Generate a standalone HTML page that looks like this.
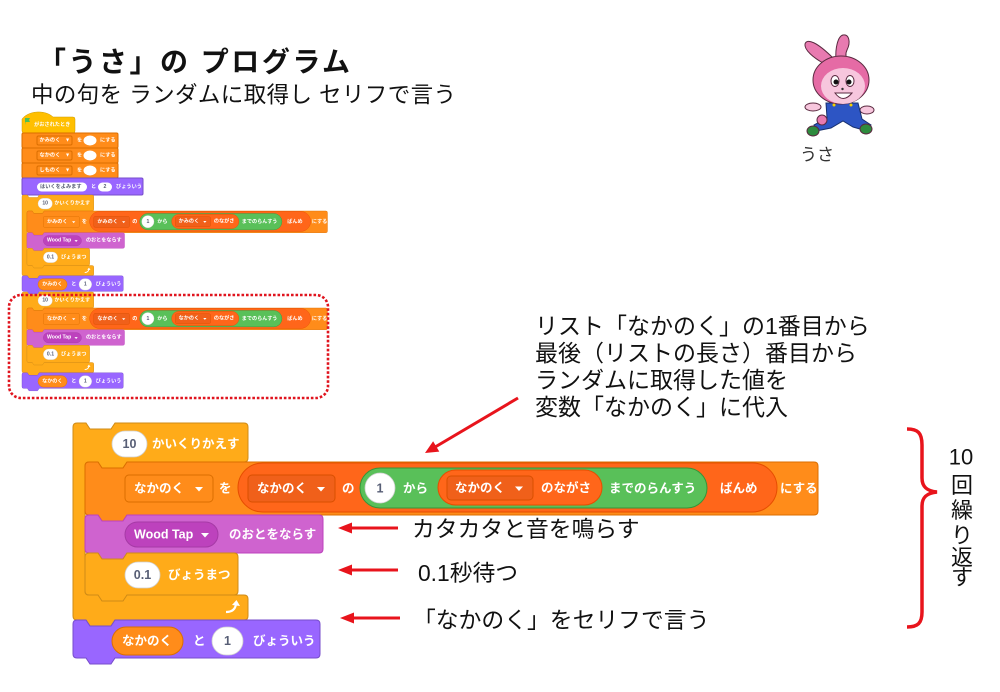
<!DOCTYPE html>
<html><head><meta charset="utf-8">
<style>
html,body{margin:0;padding:0;background:#fff;}
svg{display:block}
text{font-family:'Liberation Sans','Noto Sans CJK JP',sans-serif;}
.w{fill:#fff;font-size:12.5px;font-weight:bold;dominant-baseline:central}
.dk{fill:#575E75;font-size:12.5px;font-weight:bold;dominant-baseline:central}
.ctl{fill:#FFAB19;stroke:#CF8B17;stroke-width:1}
.var{fill:#FF8C1A;stroke:#DB6E00;stroke-width:1}
.lst{fill:#FF661A;stroke:#E64D00;stroke-width:1}
.op{fill:#59C059;stroke:#389438;stroke-width:1}
.snd{fill:#CF63CF;stroke:#BD42BD;stroke-width:1}
.lk{fill:#9966FF;stroke:#774DCB;stroke-width:1}
.wp{fill:#fff;stroke:#d0d0d0;stroke-width:.8}
.hat{fill:#FFBF00;stroke:#CC9900;stroke-width:.5}
.ann{fill:#111;font-size:23px;dominant-baseline:central}
.arr{stroke:#E8141C;stroke-width:3;fill:none}
.ah{fill:#E8141C}
.sw{fill:#fff;font-size:5.2px;font-weight:bold;dominant-baseline:central}
.sd{fill:#575E75;font-size:5.2px;font-weight:bold;dominant-baseline:central}
</style></head><body>
<svg width="1000" height="692" viewBox="0 0 1000 692" xmlns="http://www.w3.org/2000/svg">
<rect width="1000" height="692" fill="#fff"/>

<!-- Title -->
<text x="38" y="62" style="font-size:28px;font-weight:bold;fill:#111;dominant-baseline:central" textLength="312" lengthAdjust="spacing">「うさ」の プログラム</text>
<text x="31" y="95" style="font-size:22.5px;fill:#111;dominant-baseline:central" textLength="425" lengthAdjust="spacing">中の句を ランダムに取得し セリフで言う</text>

<!-- Rabbit -->
<g stroke="#5a2a40" stroke-width="1">
<path d="M823,63 C814,58 804,50 805,44 C807,38 817,42 833,58 Z" fill="#E87AB0"/>
<path d="M836,60 C835,48 838,36 843,35 C849,34 851,42 847,50 C845,54 846,58 848,60 Z" fill="#E87AB0"/>
<ellipse cx="813" cy="107" rx="8" ry="4" fill="#F7C6DD"/>
<ellipse cx="867" cy="110" rx="7" ry="4" fill="#F7C6DD"/>
<path d="M826,103 H858 L862,119 L871,125 L867,131 L853,127 L843,121 L831,128 L816,131 L814,125 L827,118 Z" fill="#2D55C4" stroke="#17306e"/>
<circle cx="822" cy="120" r="5" fill="#E87AB0"/>
<ellipse cx="813" cy="131" rx="6" ry="5" fill="#2E8B3E"/>
<ellipse cx="866" cy="129" rx="6" ry="5" fill="#2E8B3E"/>
<ellipse cx="841" cy="80" rx="28" ry="24" fill="#E56BA5"/>
<ellipse cx="843" cy="86" rx="22" ry="18" fill="#F7C6DD" stroke="none"/>
<ellipse cx="835" cy="81" rx="4" ry="5.5" fill="#fff"/>
<ellipse cx="850" cy="81" rx="4" ry="5.5" fill="#fff"/>
<circle cx="836" cy="82" r="2.5" fill="#111" stroke="none"/>
<circle cx="849" cy="82" r="2.5" fill="#111" stroke="none"/>
<circle cx="842.5" cy="89" r="1.2" fill="#333" stroke="none"/>
<path d="M835,93 Q843,104 852,93 Z" fill="#fff"/>
<circle cx="834" cy="105" r="1.5" fill="#F5D000" stroke="none"/>
<circle cx="851" cy="105" r="1.5" fill="#F5D000" stroke="none"/>
</g>
<text x="800" y="155" style="font-size:17px;fill:#333;dominant-baseline:central">うさ</text>

<!-- Small script: top part -->
<path class="hat" d="M22,119 C29,110 46,110 53,117 H73 Q75,117 75,119 V131 Q75,133 73,133 H24 Q22,133 22,131 Z"/>
<path d="M25,125 V118 H30 L29,120 L30,122 H25.5" fill="#4CBF56"/>
<text class="sw" x="34" y="125">がおされたとき</text>

<rect class="var" x="22" y="133" width="96" height="15" rx="1.5" stroke-width=".5"/>
<rect class="var" x="37" y="136" width="35" height="9" rx="1.5" stroke-width=".5"/>
<text class="sw" x="39.5" y="140.5">かみのく</text>
<text class="sw" x="65" y="140.5">▼</text>
<text class="sw" x="77" y="140.5">を</text>
<ellipse cx="90" cy="140.5" rx="6.5" ry="5" fill="#fff"/>
<text class="sw" x="100" y="140.5">にする</text>

<rect class="var" x="22" y="148" width="96" height="15" rx="1.5" stroke-width=".5"/>
<rect class="var" x="37" y="151" width="35" height="9" rx="1.5" stroke-width=".5"/>
<text class="sw" x="39.5" y="155.5">なかのく</text>
<text class="sw" x="65" y="155.5">▼</text>
<text class="sw" x="77" y="155.5">を</text>
<ellipse cx="90" cy="155.5" rx="6.5" ry="5" fill="#fff"/>
<text class="sw" x="100" y="155.5">にする</text>

<rect class="var" x="22" y="163" width="96" height="15" rx="1.5" stroke-width=".5"/>
<rect class="var" x="37" y="166" width="35" height="9" rx="1.5" stroke-width=".5"/>
<text class="sw" x="39.5" y="170.5">しものく</text>
<text class="sw" x="65" y="170.5">▼</text>
<text class="sw" x="77" y="170.5">を</text>
<ellipse cx="90" cy="170.5" rx="6.5" ry="5" fill="#fff"/>
<text class="sw" x="100" y="170.5">にする</text>

<rect class="lk" x="22" y="178" width="121" height="17" rx="1.5" stroke-width=".5"/>
<rect x="37" y="182.5" width="50" height="9" rx="4.5" fill="#fff"/>
<text class="sd" x="40" y="187">はいくをよみます</text>
<text class="sw" x="91" y="187">と</text>
<rect x="98" y="182.5" width="14" height="9" rx="4.5" fill="#fff"/>
<text class="sd" x="105" y="187" text-anchor="middle">2</text>
<text class="sw" x="116" y="187">びょういう</text>

<!-- Small script: repeat #1 -->
<g transform="translate(22,195) scale(0.41) translate(-73,-423)">
<path class="ctl" d="M73,427 Q73,423 77,423 H86 L90,429 H111 L115,423 H244 Q248,423 248,427 V458 Q248,462 244,462 H127 L123,468 H102 L98,462 H89 Q85,462 85,466 V591 Q85,595 89,595 H244 Q248,595 248,599 V616 Q248,620 244,620 H115 L111,626 H90 L86,620 H77 Q73,620 73,616 Z"/>
<path class="lk" d="M73,624 Q73,620 77,620 H86 L90,626 H111 L115,620 H316 Q320,620 320,624 V654 Q320,658 316,658 H115 L111,664 H90 L86,658 H77 Q73,658 73,654 Z"/>
<path class="var" d="M85,466 Q85,462 89,462 H98 L102,468 H123 L127,462 H814 Q818,462 818,466 V511 Q818,515 814,515 H127 L123,521 H102 L98,515 H89 Q85,515 85,511 Z"/>
<path class="snd" d="M85,519 Q85,515 89,515 H98 L102,521 H123 L127,515 H319 Q323,515 323,519 V549 Q323,553 319,553 H127 L123,559 H102 L98,553 H89 Q85,553 85,549 Z"/>
<path class="ctl" d="M85,557 Q85,553 89,553 H98 L102,559 H123 L127,553 H234 Q238,553 238,557 V591 Q238,595 234,595 H127 L123,601 H102 L98,595 H89 Q85,595 85,591 Z"/>
<rect class="wp" x="112" y="431" width="35" height="26" rx="13"/>
<text class="dk" x="129.5" y="444" text-anchor="middle">10</text>
<text class="w" x="152" y="444">かいくりかえす</text>
<rect class="var" x="125" y="475" width="88" height="27" rx="4"/>
<text class="w" x="134" y="488.5">かみのく</text>
<path d="M195,487 h8 l-4,4.5 z" fill="#fff"/>
<text class="w" x="219" y="488.5">を</text>
<rect class="lst" x="238" y="463" width="539" height="49" rx="24.5"/>
<rect x="248" y="475" width="87" height="27" rx="4" fill="#F0601A" stroke="#D94F00"/>
<text class="w" x="257" y="488.5">かみのく</text>
<path d="M317,487 h8 l-4,4.5 z" fill="#fff"/>
<text class="w" x="342" y="488.5">の</text>
<rect class="op" x="360" y="468" width="347" height="40" rx="20"/>
<rect class="wp" x="365" y="473" width="30" height="30" rx="15"/>
<text class="dk" x="380" y="488.5" text-anchor="middle">1</text>
<text class="w" x="403" y="488.5">から</text>
<rect class="lst" x="438" y="470" width="164" height="35" rx="17.5"/>
<rect x="447" y="476" width="86" height="24" rx="4" fill="#F0601A" stroke="#D94F00"/>
<text class="w" x="455" y="488">かみのく</text>
<path d="M515,486.5 h8 l-4,4.5 z" fill="#fff"/>
<text class="w" x="541" y="488">のながさ</text>
<text class="w" x="609" y="488.5">までのらんすう</text>
<text class="w" x="720" y="488.5">ばんめ</text>
<text class="w" x="780" y="488.5">にする</text>
<rect x="125" y="522" width="93" height="25" rx="12.5" fill="#BD42BD" stroke="#A63AA6"/>
<text class="w" x="134" y="534.5">Wood Tap</text>
<path d="M201,533 h8 l-4,4.5 z" fill="#fff"/>
<text class="w" x="229" y="534.5">のおとをならす</text>
<rect class="wp" x="125" y="562" width="35" height="26" rx="13"/>
<text class="dk" x="142.5" y="575" text-anchor="middle">0.1</text>
<text class="w" x="168" y="575">びょうまつ</text>
<path d="M226,612 Q235,612 236,604" stroke="#fff" stroke-width="2.2" fill="none"/>
<path d="M232,605 L236.5,600 L240,606 Z" fill="#fff"/>
<rect class="var" x="112" y="627" width="71" height="28" rx="14"/>
<text class="w" x="122" y="641">かみのく</text>
<text class="w" x="193" y="641">と</text>
<rect class="wp" x="212" y="627" width="31" height="28" rx="14"/>
<text class="dk" x="227.5" y="641" text-anchor="middle">1</text>
<text class="w" x="253" y="641">びょういう</text>
</g>

<!-- Small script: repeat #2 -->
<g transform="translate(22,292) scale(0.41) translate(-73,-423)">
<path class="ctl" d="M73,427 Q73,423 77,423 H86 L90,429 H111 L115,423 H244 Q248,423 248,427 V458 Q248,462 244,462 H127 L123,468 H102 L98,462 H89 Q85,462 85,466 V591 Q85,595 89,595 H244 Q248,595 248,599 V616 Q248,620 244,620 H115 L111,626 H90 L86,620 H77 Q73,620 73,616 Z"/>
<path class="lk" d="M73,624 Q73,620 77,620 H86 L90,626 H111 L115,620 H316 Q320,620 320,624 V654 Q320,658 316,658 H115 L111,664 H90 L86,658 H77 Q73,658 73,654 Z"/>
<path class="var" d="M85,466 Q85,462 89,462 H98 L102,468 H123 L127,462 H814 Q818,462 818,466 V511 Q818,515 814,515 H127 L123,521 H102 L98,515 H89 Q85,515 85,511 Z"/>
<path class="snd" d="M85,519 Q85,515 89,515 H98 L102,521 H123 L127,515 H319 Q323,515 323,519 V549 Q323,553 319,553 H127 L123,559 H102 L98,553 H89 Q85,553 85,549 Z"/>
<path class="ctl" d="M85,557 Q85,553 89,553 H98 L102,559 H123 L127,553 H234 Q238,553 238,557 V591 Q238,595 234,595 H127 L123,601 H102 L98,595 H89 Q85,595 85,591 Z"/>
<rect class="wp" x="112" y="431" width="35" height="26" rx="13"/>
<text class="dk" x="129.5" y="444" text-anchor="middle">10</text>
<text class="w" x="152" y="444">かいくりかえす</text>
<rect class="var" x="125" y="475" width="88" height="27" rx="4"/>
<text class="w" x="134" y="488.5">なかのく</text>
<path d="M195,487 h8 l-4,4.5 z" fill="#fff"/>
<text class="w" x="219" y="488.5">を</text>
<rect class="lst" x="238" y="463" width="539" height="49" rx="24.5"/>
<rect x="248" y="475" width="87" height="27" rx="4" fill="#F0601A" stroke="#D94F00"/>
<text class="w" x="257" y="488.5">なかのく</text>
<path d="M317,487 h8 l-4,4.5 z" fill="#fff"/>
<text class="w" x="342" y="488.5">の</text>
<rect class="op" x="360" y="468" width="347" height="40" rx="20"/>
<rect class="wp" x="365" y="473" width="30" height="30" rx="15"/>
<text class="dk" x="380" y="488.5" text-anchor="middle">1</text>
<text class="w" x="403" y="488.5">から</text>
<rect class="lst" x="438" y="470" width="164" height="35" rx="17.5"/>
<rect x="447" y="476" width="86" height="24" rx="4" fill="#F0601A" stroke="#D94F00"/>
<text class="w" x="455" y="488">なかのく</text>
<path d="M515,486.5 h8 l-4,4.5 z" fill="#fff"/>
<text class="w" x="541" y="488">のながさ</text>
<text class="w" x="609" y="488.5">までのらんすう</text>
<text class="w" x="720" y="488.5">ばんめ</text>
<text class="w" x="780" y="488.5">にする</text>
<rect x="125" y="522" width="93" height="25" rx="12.5" fill="#BD42BD" stroke="#A63AA6"/>
<text class="w" x="134" y="534.5">Wood Tap</text>
<path d="M201,533 h8 l-4,4.5 z" fill="#fff"/>
<text class="w" x="229" y="534.5">のおとをならす</text>
<rect class="wp" x="125" y="562" width="35" height="26" rx="13"/>
<text class="dk" x="142.5" y="575" text-anchor="middle">0.1</text>
<text class="w" x="168" y="575">びょうまつ</text>
<path d="M226,612 Q235,612 236,604" stroke="#fff" stroke-width="2.2" fill="none"/>
<path d="M232,605 L236.5,600 L240,606 Z" fill="#fff"/>
<rect class="var" x="112" y="627" width="71" height="28" rx="14"/>
<text class="w" x="122" y="641">なかのく</text>
<text class="w" x="193" y="641">と</text>
<rect class="wp" x="212" y="627" width="31" height="28" rx="14"/>
<text class="dk" x="227.5" y="641" text-anchor="middle">1</text>
<text class="w" x="253" y="641">びょういう</text>
</g>

<!-- Dotted highlight -->
<rect x="9" y="295" width="319" height="103" rx="12" fill="none" stroke="#E0141E" stroke-width="2.6" stroke-dasharray="2.6 1.9"/>

<!-- Big script -->
<g>
<path class="ctl" d="M73,427 Q73,423 77,423 H86 L90,429 H111 L115,423 H244 Q248,423 248,427 V458 Q248,462 244,462 H127 L123,468 H102 L98,462 H89 Q85,462 85,466 V591 Q85,595 89,595 H244 Q248,595 248,599 V616 Q248,620 244,620 H115 L111,626 H90 L86,620 H77 Q73,620 73,616 Z"/>
<path class="lk" d="M73,624 Q73,620 77,620 H86 L90,626 H111 L115,620 H316 Q320,620 320,624 V654 Q320,658 316,658 H115 L111,664 H90 L86,658 H77 Q73,658 73,654 Z"/>
<path class="var" d="M85,466 Q85,462 89,462 H98 L102,468 H123 L127,462 H814 Q818,462 818,466 V511 Q818,515 814,515 H127 L123,521 H102 L98,515 H89 Q85,515 85,511 Z"/>
<path class="snd" d="M85,519 Q85,515 89,515 H98 L102,521 H123 L127,515 H319 Q323,515 323,519 V549 Q323,553 319,553 H127 L123,559 H102 L98,553 H89 Q85,553 85,549 Z"/>
<path class="ctl" d="M85,557 Q85,553 89,553 H98 L102,559 H123 L127,553 H234 Q238,553 238,557 V591 Q238,595 234,595 H127 L123,601 H102 L98,595 H89 Q85,595 85,591 Z"/>
<rect class="wp" x="112" y="431" width="35" height="26" rx="13"/>
<text class="dk" x="129.5" y="444" text-anchor="middle">10</text>
<text class="w" x="152" y="444">かいくりかえす</text>
<rect class="var" x="125" y="475" width="88" height="27" rx="4"/>
<text class="w" x="134" y="488.5">なかのく</text>
<path d="M195,487 h8 l-4,4.5 z" fill="#fff"/>
<text class="w" x="219" y="488.5">を</text>
<rect class="lst" x="238" y="463" width="539" height="49" rx="24.5"/>
<rect x="248" y="475" width="87" height="27" rx="4" fill="#F0601A" stroke="#D94F00"/>
<text class="w" x="257" y="488.5">なかのく</text>
<path d="M317,487 h8 l-4,4.5 z" fill="#fff"/>
<text class="w" x="342" y="488.5">の</text>
<rect class="op" x="360" y="468" width="347" height="40" rx="20"/>
<rect class="wp" x="365" y="473" width="30" height="30" rx="15"/>
<text class="dk" x="380" y="488.5" text-anchor="middle">1</text>
<text class="w" x="403" y="488.5">から</text>
<rect class="lst" x="438" y="470" width="164" height="35" rx="17.5"/>
<rect x="447" y="476" width="86" height="24" rx="4" fill="#F0601A" stroke="#D94F00"/>
<text class="w" x="455" y="488">なかのく</text>
<path d="M515,486.5 h8 l-4,4.5 z" fill="#fff"/>
<text class="w" x="541" y="488">のながさ</text>
<text class="w" x="609" y="488.5">までのらんすう</text>
<text class="w" x="720" y="488.5">ばんめ</text>
<text class="w" x="780" y="488.5">にする</text>
<rect x="125" y="522" width="93" height="25" rx="12.5" fill="#BD42BD" stroke="#A63AA6"/>
<text class="w" x="134" y="534.5">Wood Tap</text>
<path d="M201,533 h8 l-4,4.5 z" fill="#fff"/>
<text class="w" x="229" y="534.5">のおとをならす</text>
<rect class="wp" x="125" y="562" width="35" height="26" rx="13"/>
<text class="dk" x="142.5" y="575" text-anchor="middle">0.1</text>
<text class="w" x="168" y="575">びょうまつ</text>
<path d="M226,612 Q235,612 236,604" stroke="#fff" stroke-width="2.2" fill="none"/>
<path d="M232,605 L236.5,600 L240,606 Z" fill="#fff"/>
<rect class="var" x="112" y="627" width="71" height="28" rx="14"/>
<text class="w" x="122" y="641">なかのく</text>
<text class="w" x="193" y="641">と</text>
<rect class="wp" x="212" y="627" width="31" height="28" rx="14"/>
<text class="dk" x="227.5" y="641" text-anchor="middle">1</text>
<text class="w" x="253" y="641">びょういう</text>
</g>

<!-- Annotation multi-line -->
<text class="ann" x="535" y="326">リスト「なかのく」の1番目から</text>
<text class="ann" x="535" y="353">最後（リストの長さ）番目から</text>
<text class="ann" x="535" y="380">ランダムに取得した値を</text>
<text class="ann" x="535" y="407">変数「なかのく」に代入</text>

<!-- Diagonal arrow -->
<line class="arr" x1="518" y1="398" x2="436" y2="446.5"/>
<polygon class="ah" points="425,453 439.3,451.6 433.1,441.2"/>

<!-- Horizontal arrows -->
<line class="arr" x1="349" y1="528" x2="398" y2="528"/>
<polygon class="ah" points="338,528 352,522.5 352,533.5"/>
<line class="arr" x1="349" y1="570" x2="398" y2="570"/>
<polygon class="ah" points="338,570 352,564.5 352,575.5"/>
<line class="arr" x1="351" y1="618" x2="400" y2="618"/>
<polygon class="ah" points="340,618 354,612.5 354,623.5"/>

<text class="ann" x="412" y="529" style="font-size:22.8px">カタカタと音を鳴らす</text>
<text class="ann" x="418" y="573" style="font-size:22.8px">0.1秒待つ</text>
<text class="ann" x="413" y="620" style="font-size:22.8px">「なかのく」をセリフで言う</text>

<!-- Brace -->
<path d="M907,429 C918,429 922,433 922,445 V478 C922,487 927,491 937,492 C927,493 922,497 922,506 V612 C922,623 918,627 907,627" fill="none" stroke="#E8141C" stroke-width="3.5"/>

<!-- Vertical text -->
<g style="font-size:22px;fill:#111;dominant-baseline:central" text-anchor="middle">
<text x="961" y="457">10</text>
<text x="962" y="485.5">回</text>
<text x="962" y="510.5">繰</text>
<text x="962" y="535.5">り</text>
<text x="962" y="557.5">返</text>
<text x="962" y="577.5">す</text>
</g>
</svg>
</body></html>
